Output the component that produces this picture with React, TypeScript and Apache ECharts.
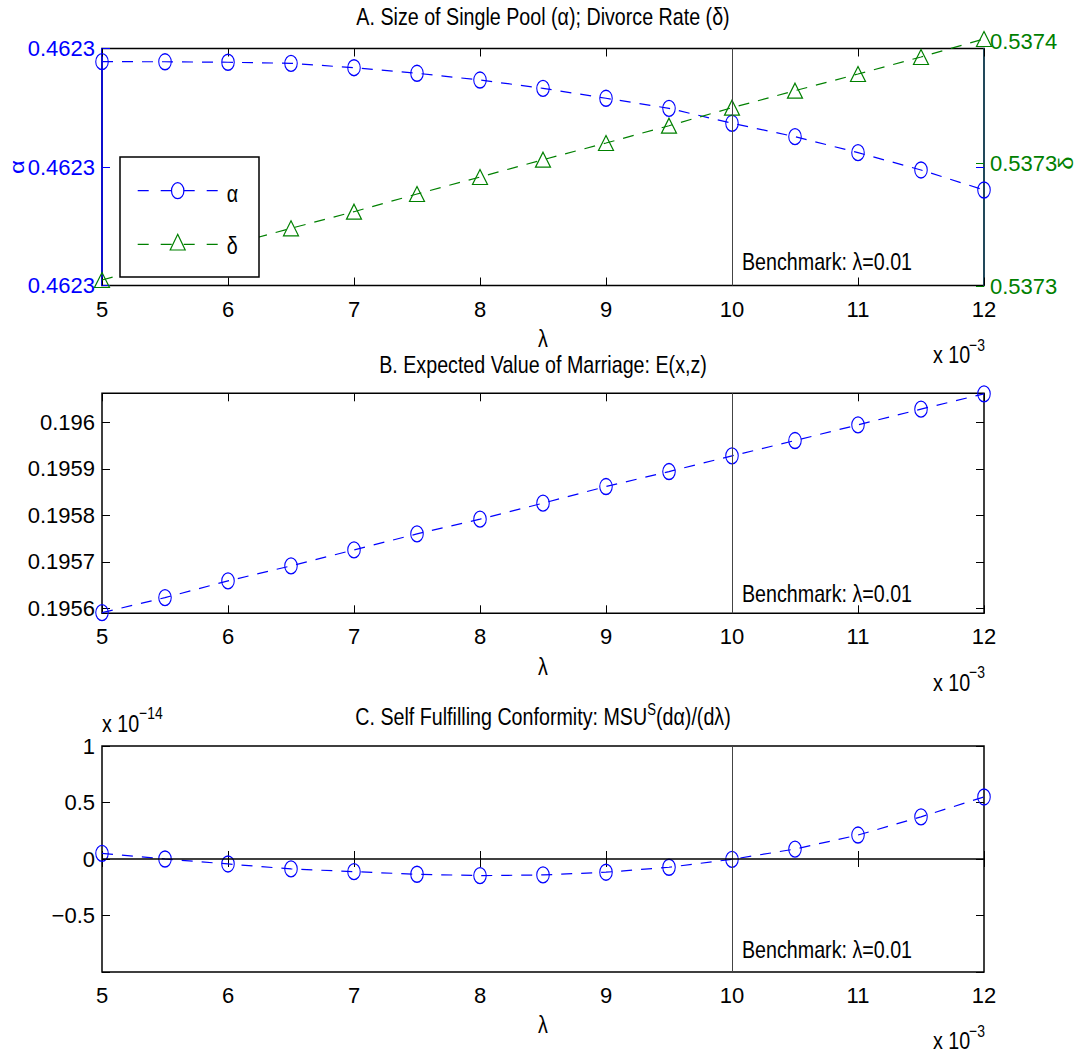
import React, { useEffect, useRef } from 'react';
import * as echarts from 'echarts';

// ---------- data ----------
const lambdaE3 = [5, 5.5, 6, 6.5, 7, 7.5, 8, 8.5, 9, 9.5, 10, 10.5, 11, 11.5, 12]; // x 10^-3
const alphaValues = [
  0.46230889, 0.46230888, 0.46230884, 0.46230875, 0.46230838, 0.46230791, 0.46230734, 0.46230664,
  0.4623058, 0.46230495, 0.46230369, 0.46230256, 0.46230121, 0.46229975, 0.46229806,
];
const deltaValues = [
  0.53728196, 0.53728751, 0.53729322, 0.53729884, 0.53730426, 0.53731004, 0.53731559, 0.53732124,
  0.53732669, 0.53733234, 0.53733822, 0.53734377, 0.53734922, 0.53735478, 0.53736065,
];
const marriageValues = [
  0.1955905, 0.1956228, 0.1956588, 0.1956912, 0.1957256, 0.1957601, 0.1957918, 0.1958263,
  0.1958621, 0.1958944, 0.1959282, 0.1959612, 0.195995, 0.1960289, 0.1960619,
];
const conformityValues = [
  0.05e-14, 0.0, -0.044e-14, -0.088e-14, -0.112e-14, -0.135e-14, -0.147e-14, -0.141e-14,
  -0.117e-14, -0.073e-14, -0.003e-14, 0.088e-14, 0.212e-14, 0.373e-14, 0.549e-14,
];

const xTicks = [5, 6, 7, 8, 9, 10, 11, 12];
const alphaTicks = [0.46229, 0.4623, 0.46231];
const deltaTicks = [0.53728, 0.53732, 0.53736];
const marriageTicks = [0.1956, 0.1957, 0.1958, 0.1959, 0.196];
const conformityTicks = [-1e-14, -0.5e-14, 0, 0.5e-14, 1e-14];
const benchmarkLambda = 10;

const titles = [
  'A. Size of Single Pool (\u03b1); Divorce Rate (\u03b4)',
  'B. Expected Value of Marriage: E(x,z)',
];
const benchmarkText = 'Benchmark: \u03bb=0.01';

// ---------- styling ----------
const FONT = '"Liberation Sans", Arial, Helvetica, sans-serif';
const BLUE = '#0000ff';
const GREEN = '#008000';
const FS = 24; // graphic texts (horizontally condensed)
const AFS = 22; // axis tick labels
const SX = 0.82;
const L = 102;
const W = 882;
const ELLIPSE = 'path://M0,1 A1,1 0 1,1 2,1 A1,1 0 1,1 0,1 Z';
const TRIANGLE = 'path://M1,0 L2,2 L0,2 Z';
const DASH = [11, 9];

const panels = [
  { top: 48.5, height: 237 },
  { top: 393.3, height: 220 },
  { top: 746, height: 226 },
];

function pairs(ys: number[]) {
  return lambdaE3.map((x, i) => [x, ys[i]]);
}

function xAxisDef(gridIndex: number, position: 'top' | 'bottom', showLabel: boolean) {
  return {
    type: 'value',
    gridIndex,
    position,
    min: xTicks[0],
    max: xTicks[xTicks.length - 1],
    interval: 1,
    axisLine: { show: false },
    splitLine: { show: false },
    axisTick: { show: true, inside: true, length: 8, lineStyle: { color: '#000', width: 1 } },
    axisLabel: { show: showLabel, margin: 12.5, fontSize: AFS, color: '#000', fontFamily: FONT },
  };
}

function txt(text: string, x: number, y: number, opts: any = {}) {
  const align = opts.align || 'left';
  const rotated = !!opts.rotation;
  return {
    type: 'text',
    x,
    y,
    rotation: opts.rotation || 0,
    scaleX: rotated ? 1 : SX,
    scaleY: rotated ? SX : 1,
    z: 110,
    style: {
      text,
      fill: opts.color || '#000',
      fontSize: opts.fontSize || FS,
      fontFamily: FONT,
      align,
      textAlign: align,
      verticalAlign: 'middle',
      textVerticalAlign: 'middle',
    },
  };
}

function fmtConf(v: number) {
  const u = Math.round((v / 1e-14) * 100) / 100;
  if (u <= -1) return '';
  if (u < 0) return '\u2212' + String(Math.abs(u));
  return String(u);
}

const markerA = {
  symbol: ELLIPSE,
  symbolSize: [12.5, 16],
  itemStyle: { color: 'rgba(0,0,0,0)', borderColor: BLUE, borderWidth: 1.2 },
  lineStyle: { color: BLUE, width: 1.2, type: DASH },
};

const benchLine = {
  silent: true,
  symbol: ['none', 'none'],
  label: { show: false },
  lineStyle: { color: '#444', width: 1, type: 'solid' },
  emphasis: { disabled: true },
};

const option: any = {
  animation: false,
  backgroundColor: '#fff',
  textStyle: { fontFamily: FONT },
  grid: [
    { left: L, top: panels[0].top, width: W, height: panels[0].height, show: true, borderColor: '#000', borderWidth: 1.5, outerBoundsMode: 'none' },
    { left: L, top: 41, width: W, height: 245, show: false, outerBoundsMode: 'none' },
    { left: L, top: panels[1].top, width: W, height: panels[1].height, show: true, borderColor: '#000', borderWidth: 1.5, outerBoundsMode: 'none' },
    { left: L, top: panels[2].top, width: W, height: panels[2].height, show: true, borderColor: '#000', borderWidth: 1.5, outerBoundsMode: 'none' },
  ],
  xAxis: [
    xAxisDef(0, 'bottom', true),
    xAxisDef(0, 'top', false),
    { type: 'value', gridIndex: 1, min: xTicks[0], max: xTicks[xTicks.length - 1], show: false },
    xAxisDef(2, 'bottom', true),
    xAxisDef(2, 'top', false),
    xAxisDef(3, 'bottom', true),
    xAxisDef(3, 'top', false),
  ],
  yAxis: [
    {
      type: 'value', gridIndex: 0, position: 'left', min: alphaTicks[0], max: alphaTicks[2],
      splitLine: { show: false },
      axisLine: { show: true, lineStyle: { color: BLUE, width: 1.5 } },
      axisTick: { show: true, inside: true, length: 8, customValues: alphaTicks, lineStyle: { color: BLUE } },
      axisLabel: { customValues: alphaTicks, margin: 7, fontSize: AFS, color: BLUE, fontFamily: FONT, formatter: (v: number) => v.toFixed(4) },
    },
    {
      type: 'value', gridIndex: 0, position: 'right', min: alphaTicks[0], max: alphaTicks[2],
      splitLine: { show: false },
      axisLine: { show: true, lineStyle: { color: '#1a4c66', width: 1.5 } },
      axisTick: { show: true, inside: true, length: 8, customValues: [alphaTicks[1]], lineStyle: { color: BLUE } },
      axisLabel: { show: false },
    },
    {
      type: 'value', gridIndex: 1, position: 'right', min: deltaTicks[0], max: deltaTicks[2],
      splitLine: { show: false },
      axisLine: { show: false },
      axisTick: { show: true, inside: true, length: 8, customValues: [deltaTicks[0], deltaTicks[1]], lineStyle: { color: GREEN } },
      axisLabel: { customValues: deltaTicks, margin: 6, fontSize: AFS, color: GREEN, fontFamily: FONT, formatter: (v: number) => v.toFixed(4) },
    },
    {
      type: 'value', gridIndex: 2, position: 'left', min: 0.195589, max: 0.196063,
      splitLine: { show: false },
      axisLine: { show: false },
      axisTick: { show: true, inside: true, length: 8, customValues: marriageTicks, lineStyle: { color: '#000' } },
      axisLabel: { customValues: marriageTicks, margin: 7, fontSize: AFS, color: '#000', fontFamily: FONT, formatter: (v: number) => String(Number(v.toFixed(4))) },
    },
    {
      type: 'value', gridIndex: 2, position: 'right', min: 0.195589, max: 0.196063,
      splitLine: { show: false },
      axisLine: { show: false },
      axisTick: { show: true, inside: true, length: 8, customValues: marriageTicks, lineStyle: { color: '#000' } },
      axisLabel: { show: false },
    },
    {
      type: 'value', gridIndex: 3, position: 'left', min: conformityTicks[0], max: conformityTicks[4],
      splitLine: { show: false },
      axisLine: { show: false },
      axisTick: { show: true, inside: true, length: 8, customValues: conformityTicks, lineStyle: { color: '#000' } },
      axisLabel: { customValues: conformityTicks, margin: 7, fontSize: AFS, color: '#000', fontFamily: FONT, formatter: fmtConf },
    },
    {
      type: 'value', gridIndex: 3, position: 'right', min: conformityTicks[0], max: conformityTicks[4],
      splitLine: { show: false },
      axisLine: { show: false },
      axisTick: { show: true, inside: true, length: 8, customValues: conformityTicks, lineStyle: { color: '#000' } },
      axisLabel: { show: false },
    },
  ],
  series: [
    {
      name: '\u03b1', type: 'line', xAxisIndex: 0, yAxisIndex: 0, data: pairs(alphaValues), z: 3, clip: false,
      ...markerA,
      markLine: { ...benchLine, data: [{ xAxis: benchmarkLambda }] },
    },
    {
      name: '\u03b4', type: 'line', xAxisIndex: 2, yAxisIndex: 2, data: pairs(deltaValues), z: 3, clip: false,
      symbol: TRIANGLE,
      symbolSize: [15, 15],
      itemStyle: { color: 'rgba(0,0,0,0)', borderColor: GREEN, borderWidth: 1.2 },
      lineStyle: { color: GREEN, width: 1.2, type: DASH },
    },
    {
      name: 'E', type: 'line', xAxisIndex: 3, yAxisIndex: 3, data: pairs(marriageValues), z: 3, clip: false,
      ...markerA,
      markLine: { ...benchLine, data: [{ xAxis: benchmarkLambda }] },
    },
    {
      name: 'C', type: 'line', xAxisIndex: 5, yAxisIndex: 5, data: pairs(conformityValues), z: 3, clip: false,
      ...markerA,
      markLine: {
        ...benchLine,
        data: [{ xAxis: benchmarkLambda }, { yAxis: 0, lineStyle: { color: '#000', width: 1.5, type: 'solid' } }],
      },
    },
  ],
  graphic: [] as any[],
};

const g: any[] = option.graphic;
// titles
g.push(txt(titles[0], 543, 17, { align: 'center' }));
g.push(txt(titles[1], 543, 365, { align: 'center' }));
g.push({
  type: 'text', x: 543, y: 717, z: 110, scaleX: SX,
  style: {
    text: '{a|C. Self Fulfilling Conformity: MSU}{s|S}{a|(d\u03b1)/(d\u03bb)}',
    fontFamily: FONT, fontSize: FS, fill: '#000', align: 'center', textAlign: 'center',
    verticalAlign: 'middle', textVerticalAlign: 'middle',
    rich: {
      a: { fontSize: FS, fontFamily: FONT, fill: '#000', color: '#000' },
      s: { fontSize: 16, fontFamily: FONT, fill: '#000', color: '#000', verticalAlign: 'top', lineHeight: 30, padding: [0, 0, 14, 0] },
    },
  },
});
// lambda names, exponents, benchmark texts
panels.forEach((p) => {
  const bottom = p.top + p.height;
  g.push(txt('\u03bb', 543, bottom + 53, { align: 'center' }));
  g.push(txt('x 10', 933, bottom + 69));
  g.push(txt('\u22123', 969, bottom + 59, { fontSize: 17 }));
});
g.push(txt(benchmarkText, 742, 262));
g.push(txt(benchmarkText, 742, 594));
g.push(txt(benchmarkText, 742, 950));
// C exponent
g.push(txt('x 10', 102, 724));
g.push(txt('\u221214', 139, 713, { fontSize: 17 }));
// rotated axis names
g.push(txt('\u03b1', 17, 167, { align: 'center', rotation: Math.PI / 2, color: BLUE }));
g.push(txt('\u03b4', 1066, 163, { align: 'center', rotation: Math.PI / 2, color: GREEN }));
// legend
g.push({ type: 'rect', z: 100, shape: { x: 120, y: 157, width: 139, height: 120 }, style: { fill: '#fff', stroke: '#000', lineWidth: 1.5 } });
g.push({ type: 'line', z: 101, shape: { x1: 137.7, y1: 190.7, x2: 218.3, y2: 190.7 }, style: { stroke: BLUE, lineWidth: 1.2, lineDash: [11, 12] } });
g.push({ type: 'ellipse', z: 102, shape: { cx: 177.7, cy: 190.7, rx: 6.2, ry: 8 }, style: { fill: 'rgba(0,0,0,0)', stroke: BLUE, lineWidth: 1.2 } });
g.push({ type: 'line', z: 101, shape: { x1: 137.7, y1: 244.3, x2: 218.3, y2: 244.3 }, style: { stroke: GREEN, lineWidth: 1.2, lineDash: [11, 12] } });
g.push({ type: 'polygon', z: 102, shape: { points: [[177.7, 234.3], [185.2, 250], [170.2, 250]] }, style: { fill: 'rgba(0,0,0,0)', stroke: GREEN, lineWidth: 1.2 } });
g.push(txt('\u03b1', 226.7, 193.4));
g.push(txt('\u03b4', 226.7, 245.7));

export default function App() {
  const ref = useRef<HTMLDivElement>(null);
  useEffect(() => {
    const chart = echarts.init(ref.current!, null, { renderer: 'svg' });
    chart.setOption(option);
    return () => chart.dispose();
  }, []);
  return (
    <div
      ref={ref}
      style={{ position: 'absolute', left: 0, top: 0, width: 1080, height: 1055, background: '#fff' }}
    />
  );
}
